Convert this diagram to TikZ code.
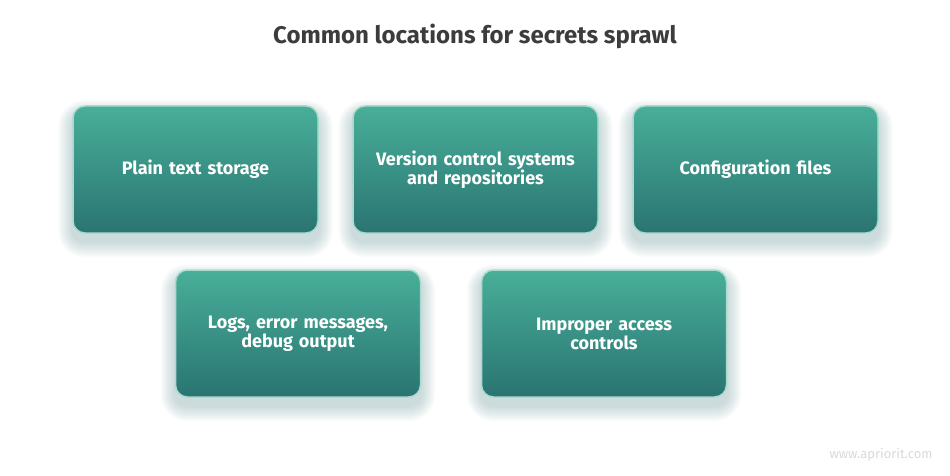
\documentclass[tikz,border=0pt]{standalone}
\usepackage{fontspec}
\setmainfont{Fira Sans}
\usetikzlibrary{positioning,calc,backgrounds}
\definecolor{tealtop}{HTML}{48AF98}
\definecolor{tealbot}{HTML}{2A7472}
\definecolor{tealedge}{HTML}{A9DACE}
\definecolor{titlegray}{HTML}{3C3C3C}
\definecolor{shade}{HTML}{2F6A6C}
\begin{document}
\begin{tikzpicture}[x=1pt,y=1pt]
\tikzstyle{spot}=[rectangle, rounded corners=12pt, minimum width=245pt, minimum height=127pt, top color=tealtop, bottom color=tealbot, draw=tealedge, line width=1.5pt, text=white, font=\fontsize{18}{19}\selectfont\bfseries, align=center, text width=235pt]
\tikzstyle{haze}=[fill=shade, opacity=0.018]
\useasboundingbox (0,0) rectangle (950,475);
\node[font=\fontsize{24}{27}\selectfont\bfseries, text=titlegray] (title) at (475,439) {Common locations for secrets sprawl};
\node[spot] (plain) at (195.5,305.5) {Plain text storage};
\node[spot] (vcs) [right=33.5pt of plain] {Version control systems\\and repositories};
\node[spot] (conf) [right=33.5pt of vcs] {Configuration files};
\node[spot] (logs) at (298,141.5) {Logs, error messages,\\debug output};
\node[spot] (acc) [right=59.5pt of logs] {Improper access\\controls};
\node[font=\fontsize{13}{15}\selectfont, text=black!15] (www) at (881,20) {www.apriorit.com};
% soft shadows under the boxes
\begin{pgfonlayer}{background}
\foreach \n in {plain,vcs,conf,logs,acc}
  \foreach \i in {1,...,14}
    \fill[haze, rounded corners=12+\i] ($(\n.south west)+(-\i,-1.1*\i-8)$) rectangle ($(\n.north east)+(\i,\i-9)$);
\end{pgfonlayer}
\end{tikzpicture}
\end{document}
